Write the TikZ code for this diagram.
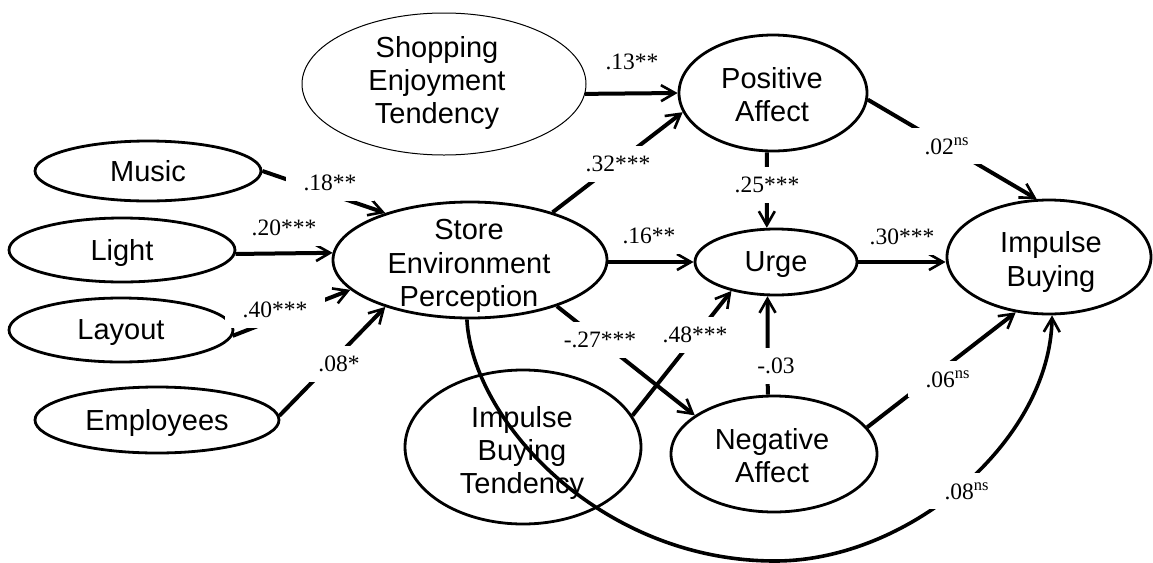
\documentclass[tikz,border=0pt]{standalone}
\usepackage{fontspec}
\setmainfont{Liberation Serif}
\setsansfont{Liberation Sans}
\usetikzlibrary{shapes.geometric,arrows.meta}

\begin{document}
\begin{tikzpicture}[x=0.5pt,y=-0.5pt,
  construct/.style={ellipse, draw, line width=1.4pt, inner sep=0pt},
  dims/.style 2 args={minimum width=#1pt, minimum height=#2pt},
  vartext/.style={font=\sffamily\fontsize{14.5}{16.6}\selectfont, align=center, inner sep=0pt},
  effect/.style={line width=2pt, -{Straight Barb[length=7pt,width=8pt,line width=1.3pt]}},
  coef/.style={font=\fontsize{11.75}{13}\selectfont, fill=white, inner xsep=9pt, inner ysep=5pt},
  tight/.style={inner xsep=3pt},
]
\useasboundingbox (0,0) rectangle (1153,563);

% constructs
\node[construct, dims={142}{71}, line width=0.5pt] (set) at (444,84) {};
\node[construct, dims={94}{58}]   (pa)     at (773,93)   {};
\node[construct, dims={113}{30}]  (music)  at (148,171)  {};
\node[construct, dims={113}{32}]  (light)  at (122,250)  {};
\node[construct, dims={112}{32}]  (layout) at (121,330)  {};
\node[construct, dims={122}{33}]  (emp)    at (157,420)  {};
\node[construct, dims={137}{58}]  (sep)    at (470,260)  {};
\node[construct, dims={81}{33}]   (urge)   at (776,262)  {};
\node[construct, dims={102}{57}]  (ib)     at (1049,257) {};
\node[construct, dims={118}{77}]  (ibt)    at (523,447)  {};
\node[construct, dims={103}{58}]  (na)     at (774,454)  {};

% construct names
\node[vartext] (set-t)    at (437,83)   {Shopping\\Enjoyment\\Tendency};
\node[vartext] (pa-t)     at (772,95)   {Positive\\Affect};
\node[vartext] (music-t)  at (148,171)  {Music};
\node[vartext] (light-t)  at (122,253)  {Light};
\node[vartext] (layout-t) at (121,333)  {Layout};
\node[vartext] (emp-t)    at (157,423)  {Employees};
\node[vartext] (sep-t)    at (469,266)  {Store\\Environment\\Perception};
\node[vartext] (urge-t)   at (776,265)  {Urge};
\node[vartext] (ib-t)     at (1051,262) {Impulse\\Buying};
\node[vartext] (ibt-t)    at (522,453)  {Impulse\\Buying\\Tendency};
\node[vartext] (na-t)     at (772,456)  {Negative\\Affect};

% paths
\draw[effect] (music.east) -- (sep.151.5);
\draw[effect] (light.-2) -- (sep.177);
\draw[effect] (layout.-3) -- (sep.194);
\draw[effect] (emp.2) -- (sep.209);
\draw[effect] (set.-4) -- (pa.west);
\draw[effect] (sep.30) -- (pa.192);
\draw[effect] (pa.-96) -- (urge.105);
\draw[effect] (sep.east |- urge.west) -- (urge.west);
\draw[effect] (urge.east) -- (urge.east -| ib.west);
\draw[effect] (pa.-4) -- (ib.102);
\draw[effect] (sep.-28.5) -- (na.154);
\draw[effect] (ibt.16) -- (urge.213);
\draw[effect] (na.96) -- (urge.-104);
\draw[effect] (na.16) -- (ib.239);
\coordinate (low) at (775,561);
\draw[effect, line width=1.8pt] (sep.-93) .. controls (472,420) and (600,561) .. (low)
  .. controls (910,561) and (1050,440) .. (ib.-87);

% path coefficients
\node[coef] (c-music)  at (330,183) {.18**};
\node[coef, tight] (c-light) at (284,228) {.20***};
\node[coef] (c-layout) at (275,310) {.40***};
\node[coef] (c-emp)    at (339,364) {.08*};
\node[coef, tight] (c-set) at (632,62) {.13**};
\node[coef] (c-seppa)  at (618,164) {.32***};
\node[coef] (c-paurge) at (767,185) {.25***};
\node[coef, tight] (c-sepurge) at (649,236) {.16**};
\node[coef, tight] (c-urgeib) at (902,237) {.30***};
\node[coef] (c-paib)   at (947,146) {.02\textsuperscript{ns}};
\node[coef] (c-sepna)  at (600,340) {-.27***};
\node[coef] (c-ibturge) at (695,335) {.48***};
\node[coef] (c-naurge) at (776,366) {-.03};
\node[coef] (c-naib)   at (948,379) {.06\textsuperscript{ns}};
\node[coef] (c-sepib)  at (967,491) {.08\textsuperscript{ns}};
\end{tikzpicture}
\end{document}
